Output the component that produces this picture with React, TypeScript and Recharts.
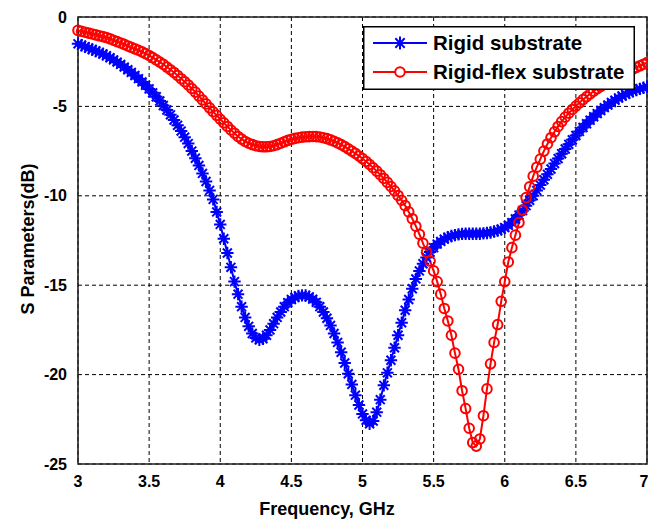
import { LineChart, Line, XAxis, YAxis, CartesianGrid, ReferenceArea, Legend } from 'recharts'

// frequency grid, GHz
const freq = [
  3, 3.025, 3.05, 3.075, 3.1, 3.125, 3.15, 3.175,
  3.2, 3.225, 3.25, 3.275, 3.3, 3.325, 3.35, 3.375,
  3.4, 3.425, 3.45, 3.475, 3.5, 3.525, 3.55, 3.575,
  3.6, 3.625, 3.65, 3.675, 3.7, 3.725, 3.75, 3.775,
  3.8, 3.825, 3.85, 3.875, 3.9, 3.925, 3.95, 3.975,
  4, 4.025, 4.05, 4.075, 4.1, 4.125, 4.15, 4.175,
  4.2, 4.225, 4.25, 4.275, 4.3, 4.325, 4.35, 4.375,
  4.4, 4.425, 4.45, 4.475, 4.5, 4.525, 4.55, 4.575,
  4.6, 4.625, 4.65, 4.675, 4.7, 4.725, 4.75, 4.775,
  4.8, 4.825, 4.85, 4.875, 4.9, 4.925, 4.95, 4.975,
  5, 5.025, 5.05, 5.075, 5.1, 5.125, 5.15, 5.175,
  5.2, 5.225, 5.25, 5.275, 5.3, 5.325, 5.35, 5.375,
  5.4, 5.425, 5.45, 5.475, 5.5, 5.525, 5.55, 5.575,
  5.6, 5.625, 5.65, 5.675, 5.7, 5.725, 5.75, 5.775,
  5.8, 5.825, 5.85, 5.875, 5.9, 5.925, 5.95, 5.975,
  6, 6.025, 6.05, 6.075, 6.1, 6.125, 6.15, 6.175,
  6.2, 6.225, 6.25, 6.275, 6.3, 6.325, 6.35, 6.375,
  6.4, 6.425, 6.45, 6.475, 6.5, 6.525, 6.55, 6.575,
  6.6, 6.625, 6.65, 6.675, 6.7, 6.725, 6.75, 6.775,
  6.8, 6.825, 6.85, 6.875, 6.9, 6.925, 6.95, 6.975,
  7,
]

// Rigid substrate, dB
const rigid = [
  -1.5, -1.58, -1.66, -1.74, -1.82, -1.9, -1.98, -2.07,
  -2.17, -2.28, -2.4, -2.52, -2.65, -2.8, -2.95, -3.1,
  -3.27, -3.45, -3.63, -3.82, -4.02, -4.24, -4.46, -4.7,
  -4.95, -5.2, -5.47, -5.76, -6.06, -6.38, -6.72, -7.08,
  -7.5, -7.9, -8.3, -8.75, -9.2, -9.7, -10.2, -10.9,
  -11.6, -12.4, -13.2, -14.0, -14.8, -15.5, -16.2, -16.8,
  -17.3, -17.7, -17.95, -18.05, -18.0, -17.8, -17.5, -17.15,
  -16.8, -16.5, -16.2, -15.98, -15.8, -15.68, -15.6, -15.57,
  -15.58, -15.65, -15.78, -15.96, -16.2, -16.5, -16.85, -17.25,
  -17.7, -18.2, -18.75, -19.35, -19.95, -20.55, -21.15, -21.7,
  -22.2, -22.55, -22.75, -22.6, -22.1, -21.4, -20.6, -19.9,
  -19.2, -18.5, -17.8, -17.1, -16.4, -15.8, -15.2, -14.65,
  -14.2, -13.8, -13.45, -13.15, -12.9, -12.7, -12.55, -12.42,
  -12.32, -12.25, -12.2, -12.16, -12.13, -12.12, -12.12, -12.12,
  -12.12, -12.12, -12.1, -12.08, -12.05, -12.0, -11.95, -11.87,
  -11.78, -11.65, -11.5, -11.3, -11.08, -10.83, -10.55, -10.25,
  -10.0, -9.7, -9.4, -9.1, -8.8, -8.5, -8.2, -7.92,
  -7.65, -7.38, -7.12, -6.87, -6.63, -6.4, -6.18, -5.97,
  -5.77, -5.58, -5.4, -5.23, -5.07, -4.92, -4.78, -4.65,
  -4.53, -4.42, -4.32, -4.23, -4.15, -4.08, -4.02, -3.96,
  -3.9,
]

// Rigid-flex substrate, dB
const flex = [
  -0.75, -0.8, -0.85, -0.9, -0.95, -1.0, -1.05, -1.1,
  -1.15, -1.22, -1.3, -1.38, -1.45, -1.53, -1.62, -1.7,
  -1.78, -1.86, -1.95, -2.05, -2.15, -2.27, -2.4, -2.52,
  -2.65, -2.8, -2.95, -3.1, -3.27, -3.45, -3.62, -3.8,
  -4.0, -4.2, -4.42, -4.64, -4.86, -5.08, -5.3, -5.5,
  -5.72, -5.92, -6.12, -6.32, -6.5, -6.68, -6.83, -6.96,
  -7.06, -7.14, -7.2, -7.24, -7.26, -7.26, -7.24, -7.2,
  -7.14, -7.06, -6.98, -6.9, -6.84, -6.79, -6.75, -6.72,
  -6.7, -6.69, -6.68, -6.69, -6.71, -6.75, -6.8, -6.87,
  -6.95, -7.04, -7.14, -7.25, -7.37, -7.5, -7.63, -7.77,
  -7.92, -8.08, -8.25, -8.43, -8.62, -8.82, -9.03, -9.25,
  -9.48, -9.72, -9.98, -10.25, -10.55, -10.9, -11.28, -11.7,
  -12.15, -12.65, -13.15, -13.65, -14.2, -14.8, -15.5, -16.3,
  -17.0, -17.8, -18.8, -19.7, -20.9, -21.9, -23.0, -23.8,
  -24.0, -23.6, -22.3, -20.8, -19.4, -18.2, -17.2, -15.9,
  -14.8, -13.7, -12.9, -12.2, -11.5, -10.8, -10.1, -9.5,
  -8.9, -8.4, -7.95, -7.5, -7.1, -6.75, -6.42, -6.12,
  -5.85, -5.6, -5.38, -5.17, -4.98, -4.8, -4.62, -4.46,
  -4.3, -4.15, -4.01, -3.88, -3.76, -3.64, -3.52, -3.41,
  -3.3, -3.2, -3.1, -3.0, -2.91, -2.82, -2.73, -2.64,
  -2.55,
]

const xTicks = [3, 3.5, 4, 4.5, 5, 5.5, 6, 6.5, 7]
const yTicks = [-25, -20, -15, -10, -5, 0]

const BLUE = '#0000ff'
const RED = '#ff0000'
const FONT = '"Liberation Sans", Arial, Helvetica, sans-serif'

const rows = freq.map((f, i) => ({ f, rigid: rigid[i], flex: flex[i] }))

function starPath(cx: number, cy: number, s: number) {
  const d = s * 0.72
  return `M${cx - s},${cy}H${cx + s}M${cx},${cy - s}V${cy + s}M${cx - d},${cy - d}L${cx + d},${cy + d}M${cx - d},${cy + d}L${cx + d},${cy - d}`
}

function StarDot(props: any) {
  const { cx, cy, index } = props
  if (cx == null || cy == null) return <g key={`s${index}`} />
  return <path key={`s${index}`} d={starPath(cx, cy, 6.2)} stroke={BLUE} strokeWidth={2} fill="none" />
}

function CircleDot(props: any) {
  const { cx, cy, index } = props
  if (cx == null || cy == null) return <g key={`c${index}`} />
  return <circle key={`c${index}`} cx={cx} cy={cy} r={4.8} stroke={RED} strokeWidth={2} fill="none" />
}

function LegendBox() {
  return (
    <svg width={272} height={64} style={{ display: 'block' }}>
      <rect x={0.75} y={0.75} width={270.5} height={62.5} fill="#fff" stroke="#000" strokeWidth={1.5} />
      <line x1={10} x2={64} y1={17} y2={17} stroke={BLUE} strokeWidth={2} />
      <path d={starPath(37, 17, 6.5)} stroke={BLUE} strokeWidth={2} fill="none" />
      <text x={70} y={17} dy="0.36em" fontFamily={FONT} fontWeight="bold" fontSize={20.5} fill="#000">
        Rigid substrate
      </text>
      <line x1={10} x2={64} y1={46} y2={46} stroke={RED} strokeWidth={2} />
      <circle cx={37} cy={46} r={4.8} stroke={RED} strokeWidth={2} fill="#fff" />
      <text x={70} y={46} dy="0.36em" fontFamily={FONT} fontWeight="bold" fontSize={20.5} fill="#000">
        Rigid-flex substrate
      </text>
    </svg>
  )
}

const tickStyle = { fontSize: 16, fontWeight: 'bold', fill: '#000', fontFamily: FONT }

export default function App() {
  return (
    <div style={{ position: 'absolute', left: 0, top: 0, width: 648, height: 521, background: '#fff' }}>
      <LineChart width={648} height={521} data={rows} margin={{ top: 17, right: 1, bottom: 27, left: 18 }}>
        <CartesianGrid stroke="#000" strokeDasharray="4 3" strokeWidth={1} />
        <ReferenceArea x1={3} x2={7} y1={-25} y2={0} fill="none" stroke="#222" strokeWidth={1.6} />
        <XAxis
          dataKey="f"
          type="number"
          domain={[3, 7]}
          ticks={xTicks}
          tickFormatter={(v: number) => String(v)}
          tick={tickStyle}
          tickLine={false}
          axisLine={false}
          tickSize={6}
          tickMargin={6}
          height={30}
        />
        <YAxis
          type="number"
          domain={[-25, 0]}
          ticks={yTicks}
          tick={tickStyle}
          tickLine={false}
          axisLine={false}
          tickSize={6}
          tickMargin={5}
          width={60}
        />
        <Legend
          layout="vertical"
          align="center"
          verticalAlign="middle"
          content={() => <LegendBox />}
          wrapperStyle={{ left: 363, top: 26, width: 272, height: 64, right: 'auto', bottom: 'auto' }}
        />
        <Line
          dataKey="rigid"
          name="Rigid substrate"
          stroke={BLUE}
          strokeWidth={2}
          dot={StarDot}
          activeDot={false}
          isAnimationActive={false}
        />
        <Line
          dataKey="flex"
          name="Rigid-flex substrate"
          stroke={RED}
          strokeWidth={2}
          dot={CircleDot}
          activeDot={false}
          isAnimationActive={false}
        />
      </LineChart>
      <svg width={648} height={521} style={{ position: 'absolute', left: 0, top: 0, pointerEvents: 'none' }}>
        <text x={327} y={515} textAnchor="middle" fontFamily={FONT} fontWeight="bold" fontSize={18} fill="#000">
          Frequency, GHz
        </text>
        <text
          x={0}
          y={0}
          transform="translate(34,239) rotate(-90)"
          textAnchor="middle"
          fontFamily={FONT}
          fontWeight="bold"
          fontSize={18}
          fill="#000"
        >
          S Parameters(dB)
        </text>
      </svg>
    </div>
  )
}
